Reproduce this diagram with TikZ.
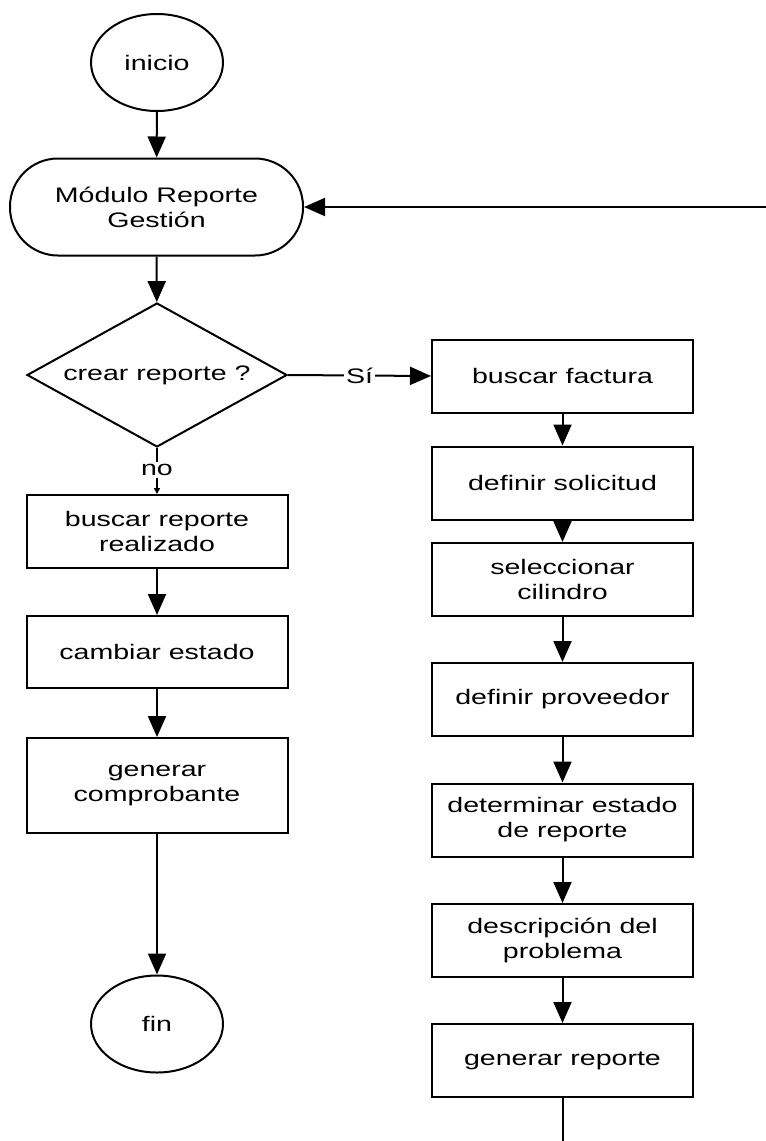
\documentclass[tikz,border=0pt]{standalone}
\usepackage{fontspec}
\setmainfont{Liberation Sans}[FakeStretch=1.36]
\usetikzlibrary{arrows.meta,shapes.geometric}
\tikzset{
    flow-text/.style = {font=\fontsize{21}{25}\selectfont, align=center, inner sep=0pt},
    proc-box/.style = {flow-text, draw, line width=2pt, rectangle, minimum width=261pt, minimum height=73pt},
    term-oval/.style = {flow-text, draw, line width=2pt, ellipse, minimum width=132pt, minimum height=97pt},
    stadium/.style = {flow-text, draw, line width=2pt, rectangle, rounded corners=48pt, minimum width=293pt, minimum height=97pt},
    decision-box/.style = {flow-text, draw, line width=2pt, diamond, aspect=1.8, minimum width=260pt, minimum height=144pt},
    flow-arrow/.style = {line width=2pt, -{Triangle[length=21pt,width=18pt]}},
    flow-label/.style = {flow-text, fill=white, inner sep=2pt},
}

\begin{document}
\begin{tikzpicture}[x=1pt,y=-1pt]
\useasboundingbox (0,0) rectangle (766,1141);

% left column
\node[term-oval] (inicio) at (157,62.5) {inicio};
\node[stadium] (modulo) at (156.5,207) {Módulo Reporte\\Gestión};
\node[decision-box] (crear) at (157,375) {crear reporte ?};
\node[flow-label] (no) at (157,470) {no};
\node[proc-box] (buscarRep) at (157,531.5) {buscar reporte\\realizado};
\node[proc-box, minimum height=72pt] (cambiar) at (157,652) {cambiar estado};
\node[proc-box, minimum height=95pt] (comprobante) at (157,785.5) {generar\\comprobante};
\node[term-oval] (fin) at (157,1024) {fin};

% right column
\node[proc-box] (factura) at (562.5,376) {buscar factura};
\node[proc-box] (solicitud) at (562.5,483) {definir solicitud};
\node[proc-box] (cilindro) at (562.5,579.5) {seleccionar\\cilindro};
\node[proc-box] (proveedor) at (562.5,699.5) {definir proveedor};
\node[proc-box] (estado) at (562.5,820) {determinar estado\\de reporte};
\node[proc-box] (problema) at (562.5,940.5) {descripción del\\problema};
\node[proc-box] (reporte) at (562.5,1060.5) {generar reporte};

\coordinate (retorno) at (766,207);
\coordinate (salida) at (562.5,1141);

\draw[flow-arrow] (inicio) -- (modulo);
\draw[flow-arrow] (modulo) -- (crear);
\draw[flow-arrow] (crear.east) -- node[flow-label, pos=0.5] {Sí} (factura.west);
\draw[line width=2pt] (crear.south) -- (no);
\draw[line width=2pt, -{Triangle[length=6pt,width=6pt]}] (no) -- (buscarRep);
\foreach \from/\to in {buscarRep/cambiar, cambiar/comprobante, comprobante/fin,
    factura/solicitud, solicitud/cilindro, cilindro/proveedor,
    proveedor/estado, estado/problema, problema/reporte}
    \draw[flow-arrow] (\from) -- (\to);
\draw[flow-arrow] (retorno) -- (modulo.east);
\draw[line width=2pt] (reporte) -- (salida);
\end{tikzpicture}
\end{document}
